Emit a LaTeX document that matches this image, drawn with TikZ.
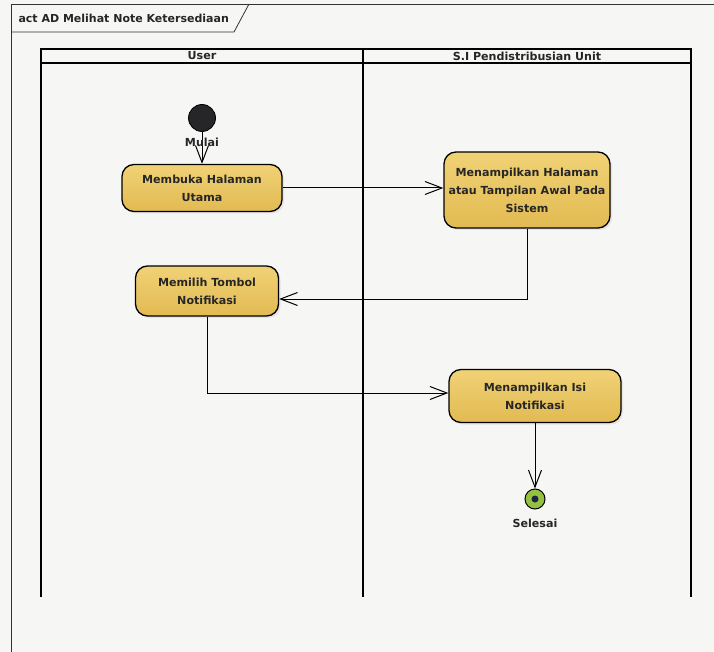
\documentclass[tikz,border=0pt]{standalone}
\usepackage{fontspec}
\setmainfont{DejaVu Sans}
\usetikzlibrary{arrows.meta,shadows}

\definecolor{paper}{RGB}{246,246,245}
\definecolor{acttop}{RGB}{240,210,118}
\definecolor{actbot}{RGB}{226,186,82}
\definecolor{finalring}{RGB}{150,192,64}
\definecolor{finaldot}{RGB}{30,34,70}
\definecolor{startfill}{RGB}{38,38,40}

\tikzset{
  every node/.style={font=\fontsize{11.1}{18}\selectfont\bfseries, text=black!85},
  action/.style={draw=black, line width=1.3pt, rounded corners=12pt,
    top color=acttop, bottom color=actbot, align=center, inner sep=0pt,
    drop shadow={opacity=0.15, shadow xshift=2pt, shadow yshift=-2pt}},
  flow/.style={draw=black, line width=1pt, -{Straight Barb[length=17pt,width=13pt,line width=1pt]}},
  lane/.style={draw=black, line width=1.6pt},
  frame/.style={draw=black!80, line width=0.8pt},
}

\begin{document}
\begin{tikzpicture}[x=1pt, y=-1pt]
  % canvas
  \fill[paper] (0,0) rectangle (714,652);
  \useasboundingbox (0,0) rectangle (714,652);

  % diagram frame and name tab
  \draw[frame] (714,4) -- (11,4) -- (11,652);
  \draw[frame] (11,32) -- (234,32) -- (249,4);
  \node[anchor=west, font=\fontsize{11}{14}\selectfont\bfseries] (title) at (15,18) {act AD Melihat Note Ketersediaan};

  % swimlanes
  \draw[lane] (41,597) -- (41,49) -- (691,49) -- (691,597);
  \draw[lane] (41,63) -- (691,63);
  \draw[lane] (363,49) -- (363,597);
  \node (laneuser) at (202,56) {User};
  \node (lanesys) at (527,56) {S.I Pendistribusian Unit};

  % initial node
  \node[circle, fill=startfill, draw=black, line width=0.8pt, minimum size=27pt, inner sep=0pt] (start) at (202,118) {};

  % actions
  \node[action, minimum width=160pt, minimum height=47pt] (membuka) at (202,188) {Membuka Halaman\\Utama};
  \node[action, minimum width=166pt, minimum height=76pt] (tampil) at (527,190) {Menampilkan Halaman\\atau Tampilan Awal Pada\\Sistem};
  \node[action, minimum width=143pt, minimum height=50pt] (memilih) at (207,291) {Memilih Tombol\\Notifikasi};
  \node[action, minimum width=172pt, minimum height=53pt] (isi) at (535,396) {Menampilkan Isi\\Notifikasi};

  % final node
  \node[circle, fill=finalring, draw=black, line width=1pt, minimum size=20pt, inner sep=0pt] (end) at (535,499) {};
  \node[circle, fill=finaldot, minimum size=7pt, inner sep=0pt] (enddot) at (end.center) {};

  % flows
  \draw[flow] (start) -- (membuka);
  \draw[flow] (membuka.east) -- (membuka.east -| tampil.west);
  \draw[flow] (tampil.south) |- ([yshift=-8pt]memilih.east);
  \draw[flow] (memilih.south) |- ([yshift=3pt]isi.west);
  \draw[flow] (isi.south) -- (end.north);

  % node labels
  \node (lblstart) at (202,142) {Mulai};
  \node (lblend) at (535,523) {Selesai};
\end{tikzpicture}
\end{document}
